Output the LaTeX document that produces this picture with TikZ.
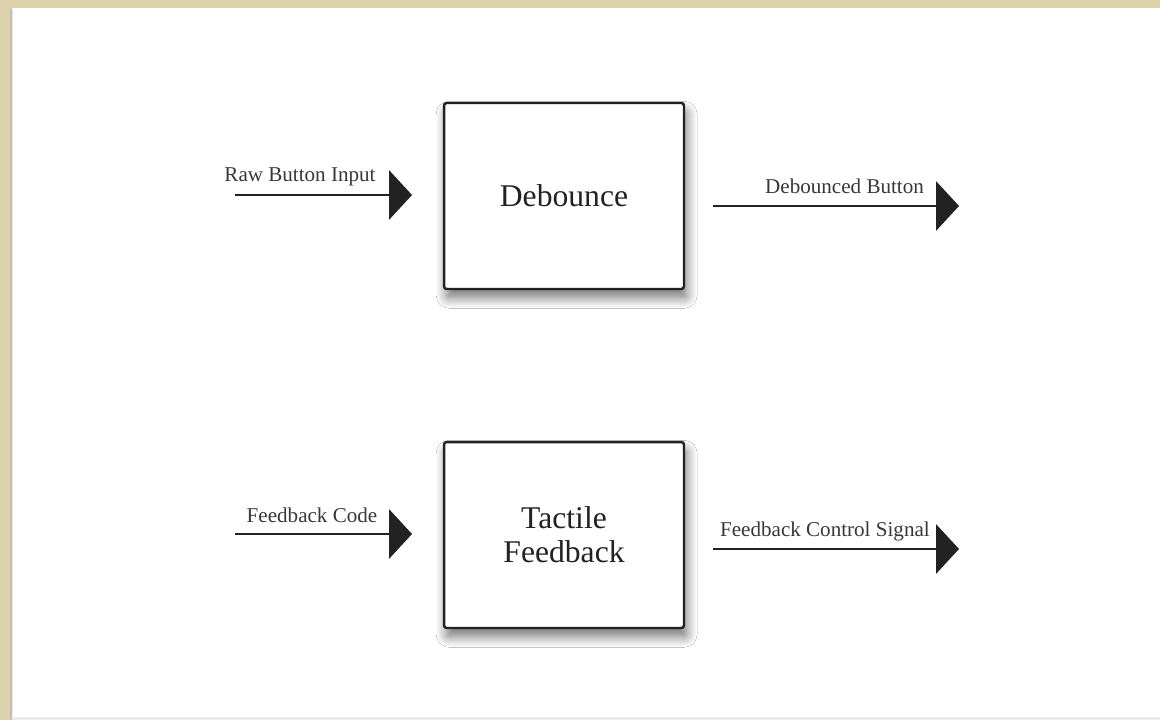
\documentclass[tikz,border=0pt]{standalone}
\usepackage{fontspec}
\setmainfont{Liberation Serif}
\usetikzlibrary{arrows.meta,shadows.blur}

\definecolor{paper}{HTML}{DCD2AC}
\definecolor{ink}{HTML}{222222}

\tikzset{
  block/.style={draw=ink, line width=1.4pt, fill=white, rounded corners=1.5pt,
    minimum width=4.8cm, minimum height=3.72cm, align=center, text=ink,
    font=\fontsize{18}{19.5}\selectfont,
    blur shadow={shadow xshift=1.5pt, shadow yshift=-5pt, shadow blur radius=6pt,
      shadow blur steps=12, shadow opacity=55}},
  signal/.style={draw=ink, line width=0.9pt, -{Triangle[length=13pt,width=28pt]}},
  siglabel/.style={text=ink!90, font=\fontsize{12}{14}\selectfont, inner sep=1pt}
}

\begin{document}
\begin{tikzpicture}[x=0.02cm,y=-0.02cm]
\useasboundingbox (0,0) rectangle (1160,720);
\fill[paper] (0,0) rectangle (1160,720);
\fill[black!25] (10,9) rectangle (1160,720);
\fill[black!8] (12,8) rectangle (1160,720);
\fill[white] (13,8) rectangle (1160,717);

\node[block] (debounce) at (564,196) {Debounce};
\node[block] (tactile) at (564,535) {Tactile\\Feedback};

% debounce signals
\coordinate (rawin) at (235,195);
\coordinate (rawend) at (412,195);
\coordinate (dbout) at (713,206);
\coordinate (dbend) at (959,206);
\draw[signal] (rawin) -- (rawend);
\draw[signal] (dbout) -- (dbend);
\node[siglabel, anchor=base] (rawlabel) at (300,181) {Raw Button Input};
\node[siglabel, anchor=base east] (dblabel) at (926,193) {Debounced Button};

% feedback signals
\coordinate (fbin) at (235,534);
\coordinate (fbend) at (412,534);
\coordinate (fbout) at (713,549);
\coordinate (fbctl) at (959,549);
\draw[signal] (fbin) -- (fbend);
\draw[signal] (fbout) -- (fbctl);
\node[siglabel, anchor=base] (codelabel) at (312,522) {Feedback Code};
\node[siglabel, anchor=base west] (ctllabel) at (718,536) {Feedback Control Signal};
\end{tikzpicture}
\end{document}
